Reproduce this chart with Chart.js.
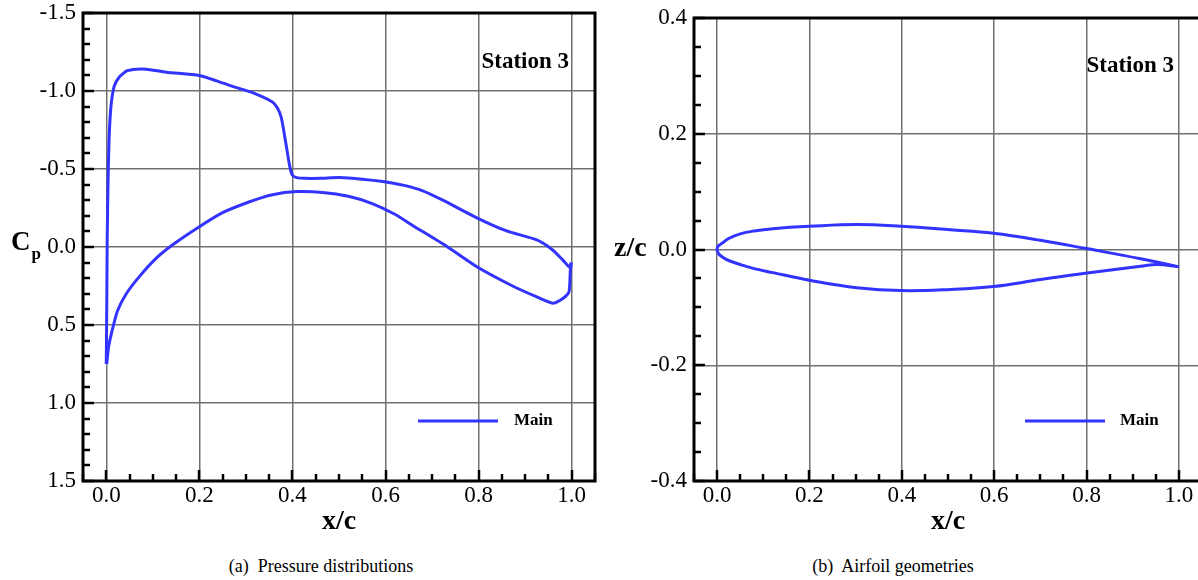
<!DOCTYPE html>
<html><head><meta charset="utf-8">
<script src="https://cdn.jsdelivr.net/npm/chart.js@4"></script>
<style>
html,body{margin:0;padding:0;background:#fff;overflow:hidden;width:1198px;height:580px;font-family:'Liberation Serif',serif;}
#c1{position:absolute;left:0;top:0;}
#c2{position:absolute;left:600px;top:0;}
.cap{position:absolute;top:556px;font-family:'Liberation Serif',serif;font-size:18px;color:#000;white-space:pre;transform:translateX(-50%);}
.warm{position:absolute;left:0;top:600px;font-family:'Liberation Serif';font-size:23px;}
</style></head><body>
<canvas id="c1" width="600" height="540"></canvas>
<canvas id="c2" width="610" height="540"></canvas>
<div class="cap" style="left:321px">(a)  Pressure distributions</div>
<div class="cap" style="left:893px">(b)  Airfoil geometries</div>
<script>
// ---- data ----
const cpUpperX = [0.000,0.001,0.002,0.004,0.006,0.010,0.017,0.028,0.045,0.065,0.086,0.129,0.200,0.237,0.271,0.314,0.357,0.368,0.376,0.385,0.394,0.400,0.409,0.426,0.460,0.501,0.550,0.594,0.640,0.680,0.723,0.796,0.860,0.925,0.959,0.981,0.996,0.999];
const cpUpperY = [0.75,0.40,-0.05,-0.45,-0.69,-0.90,-1.03,-1.09,-1.13,-1.14,-1.14,-1.12,-1.10,-1.065,-1.03,-0.99,-0.93,-0.89,-0.83,-0.68,-0.52,-0.46,-0.445,-0.44,-0.44,-0.445,-0.435,-0.42,-0.395,-0.36,-0.30,-0.187,-0.103,-0.045,0.019,0.084,0.13,0.10];
const cpLowerX = [0.001,0.005,0.011,0.024,0.043,0.071,0.108,0.142,0.200,0.250,0.308,0.357,0.409,0.465,0.520,0.570,0.620,0.660,0.731,0.798,0.873,0.925,0.959,0.981,0.994,0.997,0.999];
const cpLowerY = [0.75,0.64,0.555,0.41,0.30,0.19,0.07,-0.013,-0.13,-0.22,-0.29,-0.335,-0.355,-0.35,-0.325,-0.28,-0.21,-0.135,-0.005,0.13,0.25,0.32,0.36,0.33,0.29,0.15,0.10];

const geoUpperX = [0,0.001,0.004,0.013,0.025,0.05,0.08,0.121,0.2,0.303,0.399,0.505,0.598,0.7,0.797,0.917,1.0];
const geoUpperZ = [0,0.004,0.007,0.012,0.019,0.027,0.032,0.036,0.040,0.043,0.040,0.034,0.028,0.016,0.002,-0.016,-0.030];
const geoLowerX = [0,0.001,0.004,0.013,0.025,0.05,0.08,0.121,0.2,0.303,0.399,0.505,0.598,0.7,0.797,0.917,0.953,1.0];
const geoLowerZ = [0,-0.004,-0.008,-0.014,-0.019,-0.026,-0.033,-0.040,-0.053,-0.066,-0.071,-0.069,-0.064,-0.052,-0.041,-0.029,-0.026,-0.030];

const seriesName = "Main";
const stationLabel = "Station 3";
const xTickStep = 0.2, xMinorStep = 0.05;
const cpTickStep = 0.5, cpMinorStep = 0.1;
const zTickStep = 0.2, zMinorStep = 0.05;

// ---- helpers ----
const pts = (xs, ys) => xs.map((x, i) => ({x, y: ys[i]}));
const loop = (ux, uy, lx, ly) => pts(ux, uy).reverse().concat(pts(lx, ly).slice(1));
const FONT = '"Liberation Serif", "Times New Roman", Times, serif';
const LINE = '#3333ff';
const GRID = '#707070';
const fmt = v => (Math.abs(v) < 1e-9 ? 0 : v).toFixed(1);

const deco = {
  id: 'deco',
  afterDraw(chart, args, o) {
    const ctx = chart.ctx, ca = chart.chartArea;
    const xs = chart.scales.x, ys = chart.scales.y;
    ctx.save();
    ctx.fillStyle = '#000';
    ctx.font = 'normal 400 23px ' + FONT;
    ctx.textAlign = 'center'; ctx.textBaseline = 'middle';
    xs.ticks.forEach(t => ctx.fillText(fmt(t.value), xs.getPixelForValue(t.value), ca.bottom + 15));
    ctx.textAlign = 'right';
    ys.ticks.forEach(t => ctx.fillText(fmt(t.value), ca.left - 7, ys.getPixelForValue(t.value)));
    ctx.strokeStyle = '#000';
    ctx.lineWidth = 2.5;
    const nX = Math.round((xs.max - xs.min) / o.xMinor);
    for (let i = 0; i <= nX; i++) {
      const v = xs.min + i * o.xMinor;
      const major = Math.abs(v / o.xMajor - Math.round(v / o.xMajor)) < 1e-6;
      const px = Math.round(xs.getPixelForValue(v));
      ctx.beginPath(); ctx.moveTo(px, ca.bottom); ctx.lineTo(px, ca.bottom - (major ? 11 : 7)); ctx.stroke();
    }
    const nY = Math.round((ys.max - ys.min) / o.yMinor);
    for (let i = 0; i <= nY; i++) {
      const v = ys.min + i * o.yMinor;
      const major = Math.abs(v / o.yMajor - Math.round(v / o.yMajor)) < 1e-6;
      const py = Math.round(ys.getPixelForValue(v));
      ctx.beginPath(); ctx.moveTo(ca.left, py); ctx.lineTo(ca.left + (major ? 11 : 7), py); ctx.stroke();
    }
    ctx.lineWidth = 3;
    ctx.strokeRect(ca.left, ca.top, ca.right - ca.left, ca.bottom - ca.top);
    ctx.font = 'bold 23px ' + FONT;
    ctx.textAlign = 'right'; ctx.textBaseline = 'middle';
    ctx.fillText(stationLabel, o.stX, o.stY);
    ctx.strokeStyle = LINE; ctx.lineWidth = 3;
    ctx.beginPath(); ctx.moveTo(o.lgX1, o.lgY); ctx.lineTo(o.lgX2, o.lgY); ctx.stroke();
    ctx.font = 'bold 17px ' + FONT; ctx.textAlign = 'left';
    ctx.fillText(seriesName, o.lgTx, o.lgY);
    ctx.font = 'bold 28px ' + FONT; ctx.textAlign = 'center';
    ctx.fillText('x/c', (ca.left + ca.right) / 2, 522);
    ctx.textAlign = 'left';
    if (o.yTitle === 'Cp') {
      ctx.font = 'bold 27px ' + FONT;
      ctx.fillText('C', o.ytX, o.ytY);
      const w = ctx.measureText('C').width;
      ctx.font = 'bold 17px ' + FONT;
      ctx.fillText('p', o.ytX + w + 1, o.ytY + 12);
    } else {
      ctx.fillText(o.yTitle, o.ytX, o.ytY);
    }
    ctx.restore();
  }
};

function makeChart(id, datasets, yMin, yMax, yStep, yRev, pad, yW, decoOpts) {
  return new Chart(document.getElementById(id), {
    type: 'scatter',
    data: { datasets },
    plugins: [deco],
    options: {
      responsive: false, animation: false, devicePixelRatio: 1,
      layout: { padding: pad },
      plugins: { legend: { display: false }, tooltip: { enabled: false }, deco: decoOpts },
      elements: { point: { radius: 0 } },
      scales: {
        x: {
          type: 'linear', min: -0.05, max: 1.05,
          ticks: { stepSize: xTickStep, includeBounds: false, display: false },
          grid: { color: GRID, lineWidth: 1.5, drawTicks: false },
          border: { display: false },
          afterFit: s => { s.height = 59; }
        },
        y: {
          type: 'linear', min: yMin, max: yMax, reverse: yRev,
          ticks: { stepSize: yStep, includeBounds: false, display: false },
          grid: { color: GRID, lineWidth: 1.5, drawTicks: false },
          border: { display: false },
          afterFit: s => { s.width = yW; }
        }
      }
    }
  });
}

const lineStyle = { showLine: true, borderColor: LINE, borderWidth: 3, pointRadius: 0, fill: false };

const chart1 = makeChart('c1', [
  Object.assign({ label: seriesName, data: pts(cpUpperX, cpUpperY), tension: 0.2 }, lineStyle),
  Object.assign({ label: seriesName, data: pts(cpLowerX, cpLowerY), tension: 0.2 }, lineStyle)
], -1.5, 1.5, cpTickStep, true, { top: 13, right: 5, left: 0, bottom: 0 }, 83,
  { xMinor: xMinorStep, xMajor: xTickStep, yMinor: cpMinorStep, yMajor: cpTickStep,
    stX: 569, stY: 62, lgX1: 418, lgX2: 498, lgY: 421, lgTx: 514, yTitle: 'Cp', ytX: 11, ytY: 243 });

const chart2 = makeChart('c2', [
  Object.assign({ label: seriesName, data: loop(geoUpperX, geoUpperZ, geoLowerX, geoLowerZ), tension: 0.4 }, lineStyle)
], -0.4, 0.4, zTickStep, false, { top: 18, right: 8, left: 0, bottom: 0 }, 94,
  { xMinor: xMinorStep, xMajor: xTickStep, yMinor: zMinorStep, yMajor: zTickStep,
    stX: 574, stY: 66, lgX1: 425, lgX2: 505, lgY: 421, lgTx: 520, yTitle: 'z/c', ytX: 14, ytY: 249 });

// redraw once the serif face is surely available to the canvas
if (document.fonts && document.fonts.load) {
  Promise.all([
    document.fonts.load('23px "Liberation Serif"'),
    document.fonts.load('bold 23px "Liberation Serif"')
  ]).then(() => { chart1.render(); chart2.render(); }).catch(() => {});
  document.fonts.ready.then(() => { chart1.render(); chart2.render(); });
}
</script>
</body></html>
